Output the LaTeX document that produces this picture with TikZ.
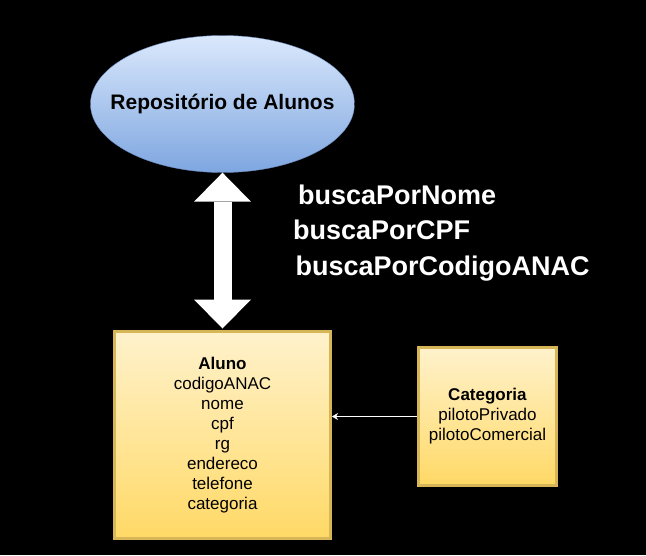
\documentclass[tikz,border=0pt]{standalone}
\usepackage{fontspec}
\setmainfont{Liberation Sans}
\usetikzlibrary{arrows.meta,calc,positioning,shapes.geometric}
\definecolor{BlueTop}{HTML}{DAE8FC}
\definecolor{BlueBot}{HTML}{7EA6E0}
\definecolor{BlueLine}{HTML}{6C8EBF}
\definecolor{GoldTop}{HTML}{FFF2CC}
\definecolor{GoldBot}{HTML}{FFD966}
\definecolor{GoldLine}{HTML}{D6B656}
\tikzset{
  classbox/.style={draw=GoldLine,line width=3pt,top color=GoldTop,bottom color=GoldBot,
    align=center,inner sep=0pt,font=\fontsize{17}{20}\selectfont},
  method/.style={text=white,anchor=base west,inner sep=0pt,
    font=\fontsize{27}{30}\selectfont\bfseries},
  bighead/.tip={Triangle[length=29pt,width=57pt,line width=0pt]}
}

\begin{document}
\begin{tikzpicture}[x=1pt,y=-1pt]
        \fill[black] (0,0) rectangle (646,555);
        \useasboundingbox (0,0) rectangle (646,555);
        \node[ellipse,draw=BlueLine,top color=BlueTop,bottom color=BlueBot,minimum width=264pt,
          minimum height=137pt,inner sep=0pt,font=\fontsize{21}{24}\selectfont\bfseries]
          (repo) at (222.5,104) {\makebox[0pt]{Repositório de Alunos}};
        \node[classbox,minimum width=216pt,minimum height=207pt] (aluno) at (222.5,435)
          {\textbf{Aluno}\\codigoANAC\\nome\\cpf\\rg\\endereco\\telefone\\categoria};
        \node[classbox,minimum width=138pt,minimum height=138pt] (categoria) at (487.5,416.5)
          {\textbf{Categoria}\\pilotoPrivado\\pilotoComercial};
        \node[method] (nome) at (298,204) {buscaPorNome};
        \node[method] (cpf) at (293,239) {buscaPorCPF};
        \node[method] (anac) at (295.5,275) {buscaPorCodigoANAC};
        \draw[white,line width=18pt,bighead-bighead,shorten >=1.5pt] (repo.south) -- (aluno.north);
        \draw[white,-{Stealth[length=6pt,width=7pt]}] (categoria.west) -- (categoria.west -| aluno.east);
      \end{tikzpicture}
\end{document}
